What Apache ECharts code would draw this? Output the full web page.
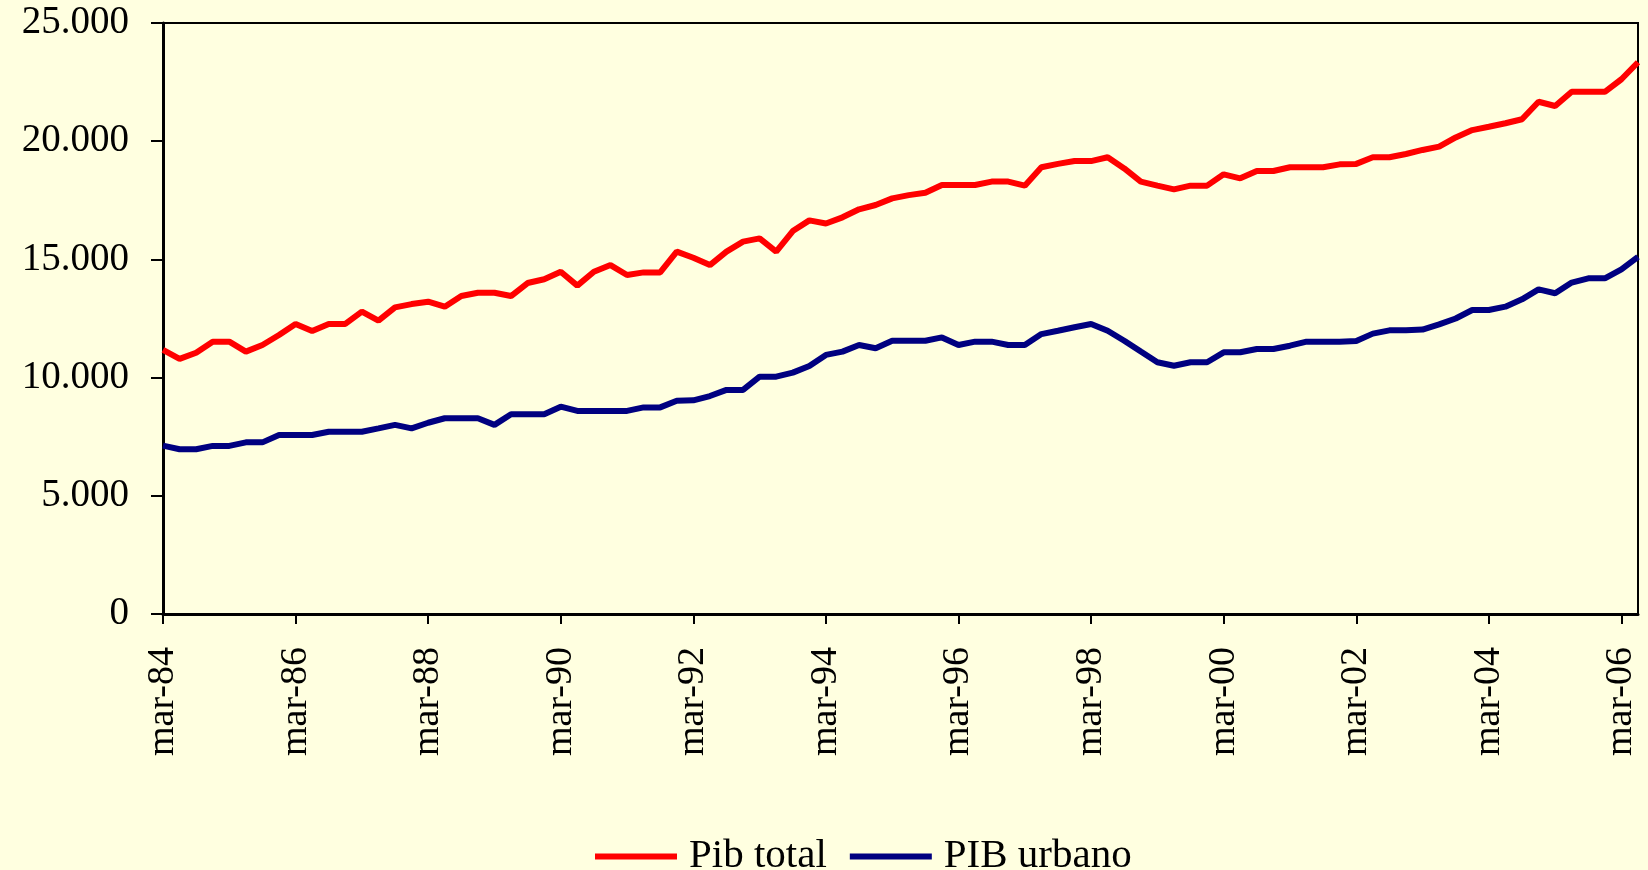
<!DOCTYPE html>
<html>
<head>
<meta charset="utf-8">
<title>PIB</title>
<script src="https://cdn.jsdelivr.net/npm/echarts@6/dist/echarts.min.js"></script>
<style>
  html, body { margin: 0; padding: 0; background: #FFFFE0; }
  #chart { width: 1648px; height: 870px; }
</style>
</head>
<body>
<div id="chart"></div>
<script>
// quarters mar-84 .. jun-06
const quarterNames = ["mar", "jun", "sep", "dic"]
const firstYear = 1984
const nQuarters = 90
const categories = []
for (let i = 0; i < nQuarters; i++) {
    const y = firstYear + Math.floor(i / 4)
    categories.push(quarterNames[i % 4] + "-" + String(y).slice(2))
}

const pibTotal = [
    11170, 10790, 11050, 11520, 11520, 11100, 11380, 11800, 12270, 11970,
    12270, 12270, 12790, 12410, 12970, 13110, 13210, 13000, 13450, 13590,
    13590, 13450, 14000, 14160, 14480, 13890, 14480, 14760, 14340, 14450,
    14450, 15330, 15070, 14760, 15330, 15750, 15890, 15330, 16200, 16650,
    16520, 16780, 17120, 17300, 17580, 17720, 17820, 18150, 18150, 18150,
    18290, 18290, 18120, 18900, 19040, 19160, 19160, 19320, 18850, 18290,
    18120, 17960, 18120, 18120, 18600, 18430, 18740, 18740, 18900, 18900,
    18900, 19020, 19040, 19320, 19320, 19460, 19630, 19770, 20160, 20470,
    20610, 20760, 20930, 21670, 21490, 22090, 22090, 22090, 22620, 23340,
]

const pibUrbano = [
    7120, 6970, 6970, 7110, 7110, 7260, 7260, 7570, 7570, 7570,
    7710, 7710, 7710, 7850, 8000, 7850, 8090, 8280, 8280, 8280,
    8000, 8450, 8450, 8450, 8770, 8590, 8590, 8590, 8590, 8740,
    8740, 9020, 9040, 9220, 9480, 9480, 10040, 10040, 10210, 10490,
    10960, 11100, 11380, 11240, 11560, 11560, 11560, 11700, 11380, 11520,
    11520, 11380, 11380, 11840, 11980, 12130, 12270, 11980, 11560, 11100,
    10650, 10500, 10650, 10650, 11070, 11070, 11210, 11210, 11350, 11520,
    11520, 11520, 11550, 11860, 12000, 12000, 12030, 12250, 12500, 12860,
    12860, 13000, 13310, 13730, 13570, 14020, 14200, 14200, 14580, 15110,
]

const seriesNames = ["Pib total", "PIB urbano"]
const seriesColors = ["#FF0000", "#000080"]

const font = "Liberation Serif"

function fmtThousands(v) {
    return String(v).replace(/\B(?=(\d{3})+(?!\d))/g, ".")
}

const chart = echarts.init(document.getElementById("chart"))

const option = {
    backgroundColor: "#FFFFE0",
    animation: false,
    grid: {
        left: 163,
        right: 10,
        top: 23,
        bottom: 256,
        show: true,
        borderColor: "#000",
        borderWidth: 2,
        backgroundColor: "transparent",
    },
    legend: {
        left: 590,
        top: 831,
        icon: "rect",
        itemWidth: 82,
        itemHeight: 6,
        itemGap: 23,
        textStyle: {
            fontFamily: font,
            fontSize: 41,
            color: "#000",
            padding: [0, 0, 0, 7],
        },
        data: seriesNames,
    },
    xAxis: {
        type: "category",
        data: categories,
        boundaryGap: false,
        axisLine: { lineStyle: { color: "#000", width: 3 } },
        axisTick: { show: true, interval: 7, length: 10, lineStyle: { color: "#000", width: 2 } },
        axisLabel: {
            interval: 7,
            rotate: 90,
            margin: 33,
            fontFamily: font,
            fontSize: 38,
            color: "#000",
        },
        splitLine: { show: false },
    },
    yAxis: {
        type: "value",
        min: 0,
        max: 25000,
        interval: 5000,
        axisLine: { show: true, lineStyle: { color: "#000", width: 3 } },
        axisTick: { show: true, length: 12, lineStyle: { color: "#000", width: 2 } },
        axisLabel: {
            margin: 34,
            fontFamily: font,
            fontSize: 39,
            color: "#000",
            formatter: fmtThousands,
        },
        splitLine: { show: false },
    },
    series: [
        {
            name: seriesNames[0],
            type: "line",
            data: pibTotal,
            symbol: "none",
            color: seriesColors[0],
            lineStyle: { width: 6, color: seriesColors[0] },
        },
        {
            name: seriesNames[1],
            type: "line",
            data: pibUrbano,
            symbol: "none",
            color: seriesColors[1],
            lineStyle: { width: 6, color: seriesColors[1] },
        },
    ],
}

chart.setOption(option)
</script>
</body>
</html>
